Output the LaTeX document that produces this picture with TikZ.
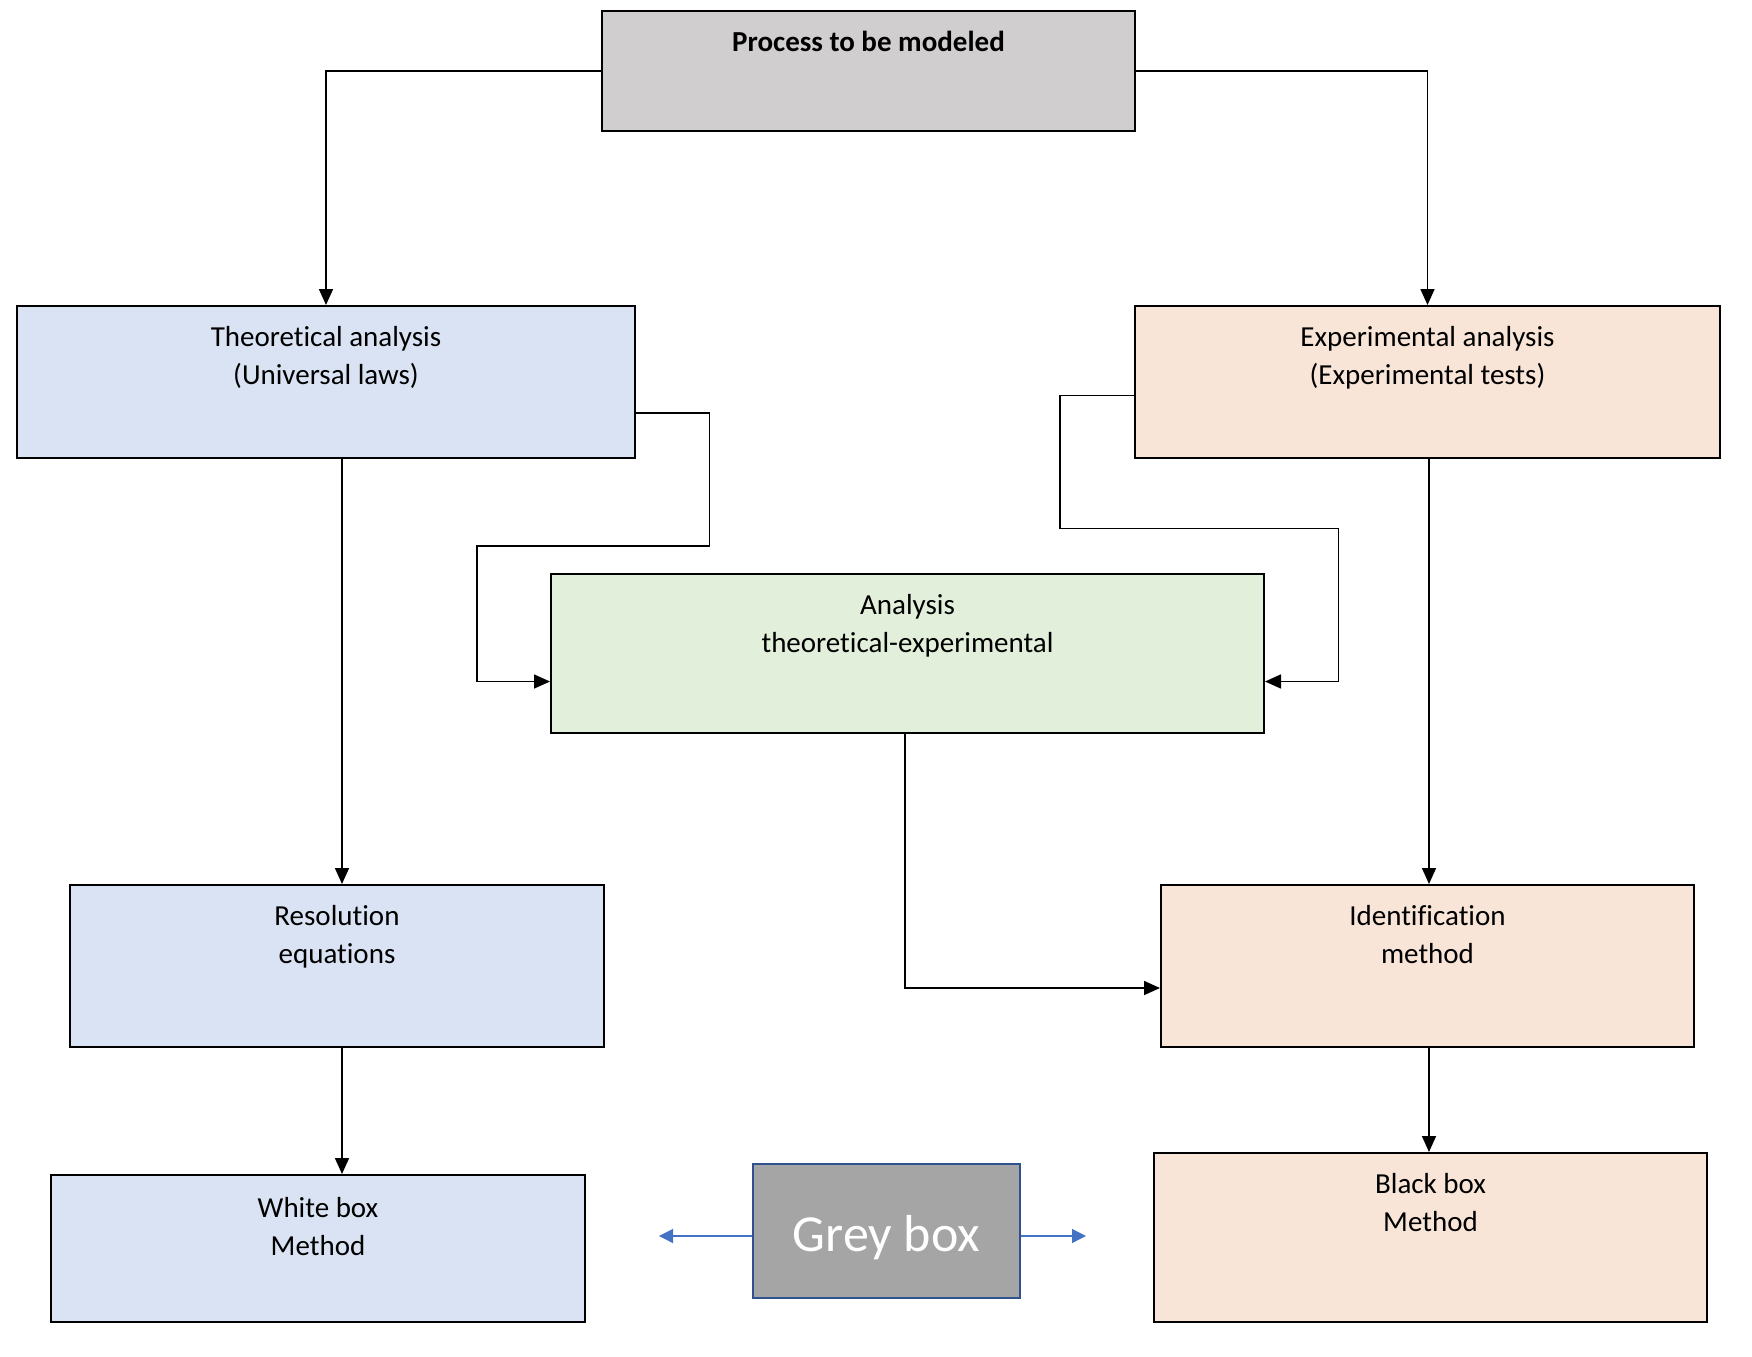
\documentclass[tikz,border=0pt]{standalone}
\usepackage{fontspec}
\setmainfont{Carlito}[Ligatures=NoCommon]
\usetikzlibrary{arrows.meta}
\definecolor{procfill}{HTML}{D0CECE}
\definecolor{bluefill}{HTML}{DAE3F3}
\definecolor{peachfill}{HTML}{F8E5D7}
\definecolor{greenfill}{HTML}{E2EFDA}
\definecolor{greyfill}{HTML}{A5A5A5}
\definecolor{greyline}{HTML}{2F528F}
\definecolor{arrowblue}{HTML}{4472C4}
\tikzset{
  box/.style={draw=black, line width=1pt, inner sep=0pt, rectangle},
  lbl/.style={anchor=north, yshift=-10.5pt, align=center, inner sep=0pt,
              font=\fontsize{14.5}{19}\selectfont},
  conn/.style={draw=black, line width=0.8pt, -{Triangle[length=8pt,width=7pt]}},
  bconn/.style={draw=arrowblue, line width=0.6pt, -{Triangle[length=7pt,width=7pt]}}
}
\begin{document}
\begin{tikzpicture}[x=0.5pt,y=-0.5pt]
\useasboundingbox (0,0) rectangle (1752,1356);
% boxes
\node[box, fill=procfill, minimum width=266.5pt, minimum height=60pt,
  label={[lbl, font=\bfseries\fontsize{14.5}{19}\selectfont]north:Process to be modeled}] (proc) at (868.5,71) {};
\node[box, fill=bluefill, minimum width=309pt, minimum height=76pt,
  label={[lbl]north:Theoretical analysis\\(Universal laws)}] (theo) at (326,382) {};
\node[box, fill=peachfill, minimum width=292.5pt, minimum height=76pt,
  label={[lbl]north:Experimental analysis\\(Experimental tests)}] (expe) at (1427.5,382) {};
\node[box, fill=greenfill, minimum width=356.5pt, minimum height=79.5pt,
  label={[lbl]north:Analysis\\theoretical-experimental}] (ana) at (907.5,653.5) {};
\node[box, fill=bluefill, minimum width=267pt, minimum height=81pt,
  label={[lbl]north:Resolution\\equations}] (reso) at (337,966) {};
\node[box, fill=peachfill, minimum width=266.5pt, minimum height=81pt,
  label={[lbl]north:Identification\\method}] (iden) at (1427.5,966) {};
\node[box, fill=bluefill, minimum width=267pt, minimum height=73.5pt,
  label={[lbl, yshift=-1pt]north:White box\\Method}] (white) at (318,1248.5) {};
\node[box, fill=peachfill, minimum width=276.5pt, minimum height=84.5pt,
  label={[lbl]north:Black box\\Method}] (black) at (1430.5,1237.5) {};
\node[box, draw=greyline, fill=greyfill, minimum width=133.5pt, minimum height=67pt,
  text=white, font=\fontsize{26}{30}\selectfont] (grey) at (886.5,1231) {\raisebox{-10pt}[0pt][0pt]{Grey box}};
% free ends
\coordinate (gl) at (659,1236);
\coordinate (gr) at (1086,1236);
% connectors
\draw[conn] (proc.west) -| (theo.north);
\draw[conn] (proc.east) -| (expe.north);
\draw[conn] (theo.south -| 342,0) -- (reso.north -| 342,0);
\draw[conn] (reso.south -| 342,0) -- (white.north -| 342,0);
\draw[conn] (expe.south -| 1429,0) -- (iden.north -| 1429,0);
\draw[conn] (iden.south -| 1429,0) -- (black.north -| 1429,0);
\draw[conn] (theo.east |- 0,413) -- (709.5,413) -- (709.5,546) -- (477,546) -- (477,681.5) -- (ana.west |- 0,681.5);
\draw[conn] (expe.west |- 0,395.5) -- (1060,395.5) -- (1060,528.5) -- (1338.5,528.5) -- (1338.5,681.5) -- (ana.east |- 0,681.5);
\draw[conn] (ana.south -| 905,0) |- (iden.west |- 0,988);
\draw[bconn] (grey.west |- gl) -- (gl);
\draw[bconn] (grey.east |- gr) -- (gr);
\end{tikzpicture}
\end{document}
